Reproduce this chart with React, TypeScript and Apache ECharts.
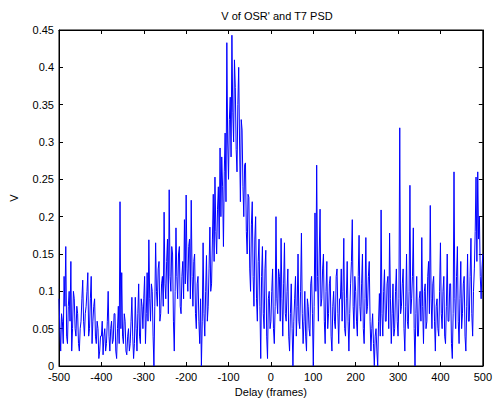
import React, { useEffect, useRef } from "react";
import * as echarts from "echarts";

const frameStep = 2;
const frameStart = -500;

const block1 = [0.09, 0.05, 0.02, 0.07, 0.06, 0.03, 0.12, 0.08, 0.16, 0.04, 0.03, 0.08, 0.10, 0.06, 0.14, 0.02, 0.05, 0.10, 0.09, 0.05, 0.04, 0.08, 0.07, 0.03, 0.02, 0.05, 0.06, 0.09, 0.115, 0.06, 0.04, 0.07, 0.08, 0.10, 0.125, 0.04, 0.05, 0.09, 0.12, 0.03, 0.06, 0.08, 0.09, 0.04, 0.03, 0.06, 0.05, 0.01, 0.02, 0.04];
const block2 = [0.04, 0.06, 0.015, 0.04, 0.05, 0.02, 0.03, 0.06, 0.10, 0.04, 0.02, 0.05, 0.06, 0.03, 0.035, 0.07, 0.07, 0.02, 0.01, 0.05, 0.08, 0.03, 0.22, 0.05, 0.125, 0.04, 0.03, 0.07, 0.06, 0.02, 0.015, 0.04, 0.05, 0.02, 0.03, 0.06, 0.092, 0.04, 0.01, 0.03, 0.092, 0.05, 0.02, 0.07, 0.11, 0.04, 0.03, 0.09, 0.08, 0.05];
const block3 = [0.09, 0.12, 0.03, 0.07, 0.125, 0.06, 0.169, 0.09, 0.06, 0.11, 0.10, 0.04, 0.0, 0.08, 0.165, 0.10, 0.08, 0.13, 0.14, 0.06, 0.07, 0.11, 0.12, 0.08, 0.206, 0.11, 0.09, 0.14, 0.17, 0.07, 0.236, 0.12, 0.10, 0.16, 0.15, 0.06, 0.02, 0.10, 0.185, 0.12, 0.09, 0.15, 0.16, 0.08, 0.07, 0.12, 0.14, 0.09, 0.196, 0.11];
const block4 = [0.229, 0.13, 0.10, 0.16, 0.17, 0.09, 0.222, 0.12, 0.08, 0.14, 0.15, 0.07, 0.05, 0.11, 0.12, 0.06, 0.03, 0.09, 0.0, 0.06, 0.165, 0.07, 0.04, 0.10, 0.148, 0.06, 0.08, 0.13, 0.186, 0.10, 0.11, 0.17, 0.23, 0.14, 0.253, 0.18, 0.15, 0.21, 0.24, 0.17, 0.292, 0.20, 0.28, 0.24, 0.16, 0.26, 0.312, 0.22, 0.433, 0.30];
const block5 = [0.25, 0.33, 0.36, 0.28, 0.443, 0.34, 0.30, 0.41, 0.373, 0.29, 0.26, 0.35, 0.40, 0.30, 0.22, 0.33, 0.316, 0.24, 0.20, 0.27, 0.272, 0.18, 0.15, 0.23, 0.226, 0.13, 0.10, 0.19, 0.22, 0.12, 0.08, 0.17, 0.20, 0.09, 0.06, 0.14, 0.17, 0.08, 0.01, 0.12, 0.16, 0.07, 0.05, 0.13, 0.155, 0.04, 0.01, 0.09, 0.10, 0.05];
const block6 = [0.06, 0.10, 0.13, 0.05, 0.03, 0.08, 0.2, 0.09, 0.07, 0.13, 0.12, 0.06, 0.171, 0.09, 0.04, 0.11, 0.165, 0.07, 0.06, 0.10, 0.13, 0.04, 0.02, 0.07, 0.11, 0.05, 0.0, 0.06, 0.09, 0.12, 0.04, 0.08, 0.15, 0.06, 0.05, 0.10, 0.178, 0.07, 0.03, 0.06, 0.10, 0.04, 0.02, 0.09, 0.08, 0.05, 0.04, 0.11, 0.12, 0.07];
const block7 = [0.0, 0.08, 0.205, 0.10, 0.269, 0.12, 0.06, 0.15, 0.21, 0.08, 0.09, 0.13, 0.15, 0.06, 0.03, 0.10, 0.14, 0.05, 0.07, 0.11, 0.12, 0.04, 0.02, 0.08, 0.10, 0.06, 0.05, 0.12, 0.13, 0.07, 0.03, 0.09, 0.09, 0.13, 0.06, 0.10, 0.171, 0.05, 0.04, 0.09, 0.14, 0.06, 0.02, 0.07, 0.11, 0.14, 0.196, 0.08, 0.05, 0.12];
const block8 = [0.10, 0.06, 0.04, 0.12, 0.175, 0.08, 0.06, 0.11, 0.15, 0.05, 0.03, 0.09, 0.172, 0.07, 0.08, 0.12, 0.14, 0.06, 0.02, 0.05, 0.07, 0.03, 0.0, 0.04, 0.05, 0.02, 0.0, 0.06, 0.097, 0.04, 0.209, 0.07, 0.04, 0.10, 0.129, 0.06, 0.06, 0.11, 0.12, 0.05, 0.178, 0.09, 0.03, 0.07, 0.11, 0.04, 0.05, 0.10, 0.13, 0.06];
const block9 = [0.04, 0.09, 0.319, 0.07, 0.08, 0.11, 0.13, 0.05, 0.02, 0.08, 0.15, 0.06, 0.05, 0.10, 0.242, 0.07, 0.09, 0.12, 0.185, 0.05, 0.0, 0.07, 0.12, 0.04, 0.04, 0.09, 0.10, 0.06, 0.172, 0.08, 0.03, 0.10, 0.11, 0.05, 0.06, 0.12, 0.14, 0.07, 0.215, 0.09, 0.05, 0.11, 0.12, 0.06, 0.02, 0.08, 0.09, 0.05, 0.04, 0.10];
const block10 = [0.165, 0.07, 0.05, 0.10, 0.12, 0.04, 0.03, 0.08, 0.15, 0.06, 0.06, 0.11, 0.11, 0.03, 0.01, 0.07, 0.26, 0.09, 0.05, 0.12, 0.16, 0.06, 0.03, 0.09, 0.14, 0.05, 0.07, 0.11, 0.12, 0.04, 0.02, 0.08, 0.15, 0.06, 0.06, 0.12, 0.171, 0.07, 0.04, 0.10, 0.13, 0.18, 0.253, 0.14, 0.26, 0.17, 0.20, 0.12, 0.09, 0.13];
const lastValue = [0.15];

const vValues = [...block1, ...block2, ...block3, ...block4, ...block5, ...block6, ...block7, ...block8, ...block9, ...block10, ...lastValue];

const xTicks = [-500, -400, -300, -200, -100, 0, 100, 200, 300, 400, 500];
const yTicks = [0, 0.05, 0.1, 0.15, 0.2, 0.25, 0.3, 0.35, 0.4, 0.45];

const titleText = "V of OSR' and T7 PSD";
const xName = "Delay (frames)";
const yName = "V";

export default function App() {
  const ref = useRef<HTMLDivElement>(null);
  useEffect(() => {
    if (!ref.current) return;
    const chart = echarts.init(ref.current, null, { renderer: "svg" });
    const data = vValues.map((v, i) => [frameStart + i * frameStep, v]);
    const font = "'Liberation Sans', Arial, sans-serif";
    const axisCommon = {
      min: xTicks[0],
      max: xTicks[xTicks.length - 1],
      interval: 100,
    };
    const lineCommon = { show: true, onZero: false, lineStyle: { color: "#000" } };
    const tickCommon = { show: true, inside: true, length: 4, lineStyle: { color: "#000" } };
    chart.setOption({
      animation: false,
      backgroundColor: "#ffffff",
      title: {
        text: titleText,
        left: 272,
        top: 5,
        textAlign: "center",
        textStyle: { fontFamily: font, fontSize: 11, fontWeight: "normal", color: "#000" },
      },
      grid: { left: 58, right: 9, top: 30, bottom: 38, show: true, borderColor: "#000", borderWidth: 1 },
      xAxis: [
        {
          type: "value",
          ...axisCommon,
          position: "bottom",
          name: xName,
          nameLocation: "middle",
          nameGap: 20,
          nameTextStyle: { fontFamily: font, fontSize: 11, color: "#000" },
          axisLine: lineCommon,
          axisTick: tickCommon,
          axisLabel: { fontFamily: font, fontSize: 11, color: "#000", margin: 5 },
          splitLine: { show: false },
        },
        {
          type: "value",
          ...axisCommon,
          position: "top",
          axisLine: lineCommon,
          axisTick: tickCommon,
          axisLabel: { show: false },
          splitLine: { show: false },
        },
      ],
      yAxis: [
        {
          type: "value",
          min: 0,
          max: 0.45,
          interval: 0.05,
          position: "left",
          name: yName,
          nameLocation: "middle",
          nameGap: 40,
          nameTextStyle: { fontFamily: font, fontSize: 11, color: "#000" },
          axisLine: lineCommon,
          axisTick: tickCommon,
          axisLabel: {
            fontFamily: font,
            fontSize: 11,
            color: "#000",
            margin: 5,
            formatter: (v: number) => {
              const t = yTicks.find((y) => Math.abs(y - v) < 1e-9);
              return t === undefined ? "" : String(t);
            },
          },
          splitLine: { show: false },
        },
        {
          type: "value",
          min: 0,
          max: 0.45,
          interval: 0.05,
          position: "right",
          axisLine: lineCommon,
          axisTick: tickCommon,
          axisLabel: { show: false },
          splitLine: { show: false },
        },
      ],
      series: [
        {
          type: "line",
          data,
          xAxisIndex: 0,
          yAxisIndex: 0,
          showSymbol: false,
          symbol: "none",
          lineStyle: { color: "#0000ff", width: 1 },
        },
      ],
    });
    return () => chart.dispose();
  }, []);
  return <div ref={ref} style={{ width: 495, height: 404, position: "absolute", left: 0, top: 0 }} />;
}
